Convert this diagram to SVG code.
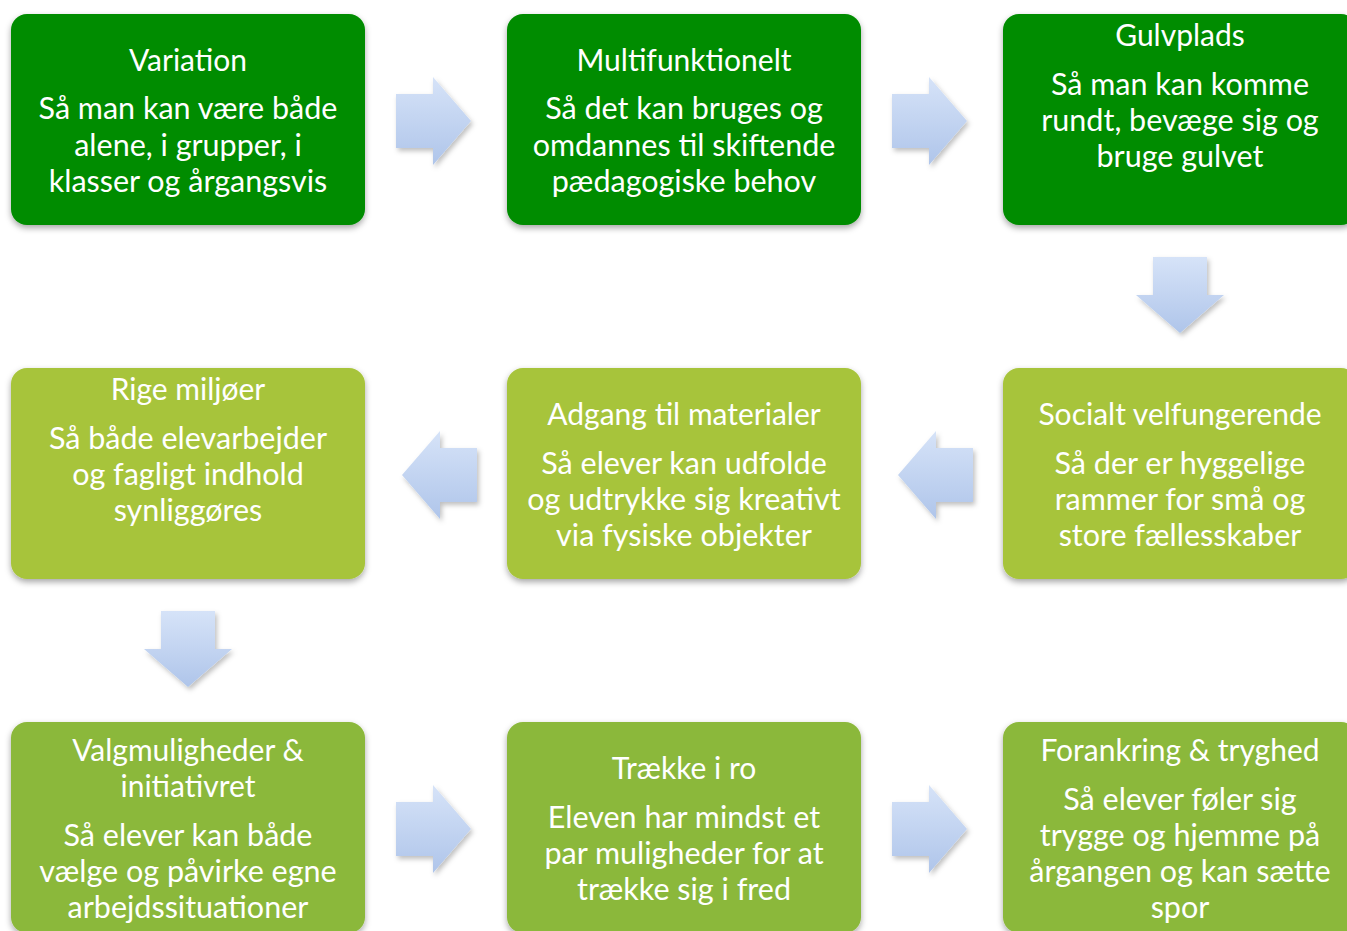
<svg xmlns="http://www.w3.org/2000/svg" width="1347" height="931" viewBox="0 0 1347 931">
<defs>
<filter id="sh" x="-10%" y="-10%" width="120%" height="130%">
<feDropShadow dx="0" dy="3" stdDeviation="3" flood-color="#000" flood-opacity="0.35"/>
</filter>
<filter id="ash" x="-20%" y="-20%" width="150%" height="150%">
<feDropShadow dx="2" dy="3" stdDeviation="2.5" flood-color="#000" flood-opacity="0.25"/>
</filter>
<linearGradient id="ag" x1="0" y1="0" x2="0" y2="1">
<stop offset="0" stop-color="#D6E3F8"/>
<stop offset="1" stop-color="#AFC5EA"/>
</linearGradient>
</defs>
<style>
.box{filter:url(#sh)}
.g1{fill:#008C00}
.g2{fill:#A7C43A}
.g3{fill:#8BB83A}
text{font-family:Lato,"Open Sans","Noto Sans",sans-serif;fill:#fff;text-anchor:middle}
.t{font-size:30px}
.b{font-size:30.5px}
.arr{fill:url(#ag);filter:url(#ash)}
</style>
<g id="connectors">
<polygon class="arr" points="396,94 433,94 433,77 471,121 433,165 433,148 396,148"/>
<polygon class="arr" points="892,94 929,94 929,77 967,121 929,165 929,148 892,148"/>
<polygon class="arr" points="1153,257 1207,257 1207,295 1224,295 1180,333 1136,295 1153,295"/>
<polygon class="arr" points="973,448 936,448 936,431 898,475 936,519 936,502 973,502"/>
<polygon class="arr" points="477,448 440,448 440,431 402,475 440,519 440,502 477,502"/>
<polygon class="arr" points="161,611 215,611 215,649 232,649 188,687 144,649 161,649"/>
<polygon class="arr" points="396,802 433,802 433,785 471,829 433,873 433,856 396,856"/>
<polygon class="arr" points="892,802 929,802 929,785 967,829 929,873 929,856 892,856"/>
</g>
<g id="n1">
<rect class="box g1" x="11" y="14" width="354" height="211" rx="16"/>
<text class="t" x="188" y="71">Variation</text>
<text class="b" x="188" y="119">Så man kan være både</text>
<text class="b" x="188" y="156">alene, i grupper, i</text>
<text class="b" x="188" y="192">klasser og årgangsvis</text>
</g>
<g id="n2">
<rect class="box g1" x="507" y="14" width="354" height="211" rx="16"/>
<text class="t" x="684" y="71">Multifunktionelt</text>
<text class="b" x="684" y="119">Så det kan bruges og</text>
<text class="b" x="684" y="156">omdannes til skiftende</text>
<text class="b" x="684" y="192">pædagogiske behov</text>
</g>
<g id="n3">
<rect class="box g1" x="1003" y="14" width="354" height="211" rx="16"/>
<text class="t" x="1180" y="46">Gulvplads</text>
<text class="b" x="1180" y="95">Så man kan komme</text>
<text class="b" x="1180" y="131">rundt, bevæge sig og</text>
<text class="b" x="1180" y="167">bruge gulvet</text>
</g>
<g id="n4">
<rect class="box g2" x="11" y="368" width="354" height="211" rx="16"/>
<text class="t" x="188" y="400">Rige miljøer</text>
<text class="b" x="188" y="449">Så både elevarbejder</text>
<text class="b" x="188" y="485">og fagligt indhold</text>
<text class="b" x="188" y="521">synliggøres</text>
</g>
<g id="n5">
<rect class="box g2" x="507" y="368" width="354" height="211" rx="16"/>
<text class="t" x="684" y="425">Adgang til materialer</text>
<text class="b" x="684" y="474">Så elever kan udfolde</text>
<text class="b" x="684" y="510">og udtrykke sig kreativt</text>
<text class="b" x="684" y="546">via fysiske objekter</text>
</g>
<g id="n6">
<rect class="box g2" x="1003" y="368" width="354" height="211" rx="16"/>
<text class="t" x="1180" y="425">Socialt velfungerende</text>
<text class="b" x="1180" y="474">Så der er hyggelige</text>
<text class="b" x="1180" y="510">rammer for små og</text>
<text class="b" x="1180" y="546">store fællesskaber</text>
</g>
<g id="n7">
<rect class="box g3" x="11" y="722" width="354" height="211" rx="16"/>
<text class="t" x="188" y="761">Valgmuligheder &amp;</text>
<text class="t" x="188" y="797">initiativret</text>
<text class="b" x="188" y="846">Så elever kan både</text>
<text class="b" x="188" y="882">vælge og påvirke egne</text>
<text class="b" x="188" y="918">arbejdssituationer</text>
</g>
<g id="n8">
<rect class="box g3" x="507" y="722" width="354" height="211" rx="16"/>
<text class="t" x="684" y="779">Trække i ro</text>
<text class="b" x="684" y="828">Eleven har mindst et</text>
<text class="b" x="684" y="864">par muligheder for at</text>
<text class="b" x="684" y="900">trække sig i fred</text>
</g>
<g id="n9">
<rect class="box g3" x="1003" y="722" width="354" height="211" rx="16"/>
<text class="t" x="1180" y="761">Forankring &amp; tryghed</text>
<text class="b" x="1180" y="810">Så elever føler sig</text>
<text class="b" x="1180" y="846">trygge og hjemme på</text>
<text class="b" x="1180" y="882">årgangen og kan sætte</text>
<text class="b" x="1180" y="918">spor</text>
</g>
</svg>
